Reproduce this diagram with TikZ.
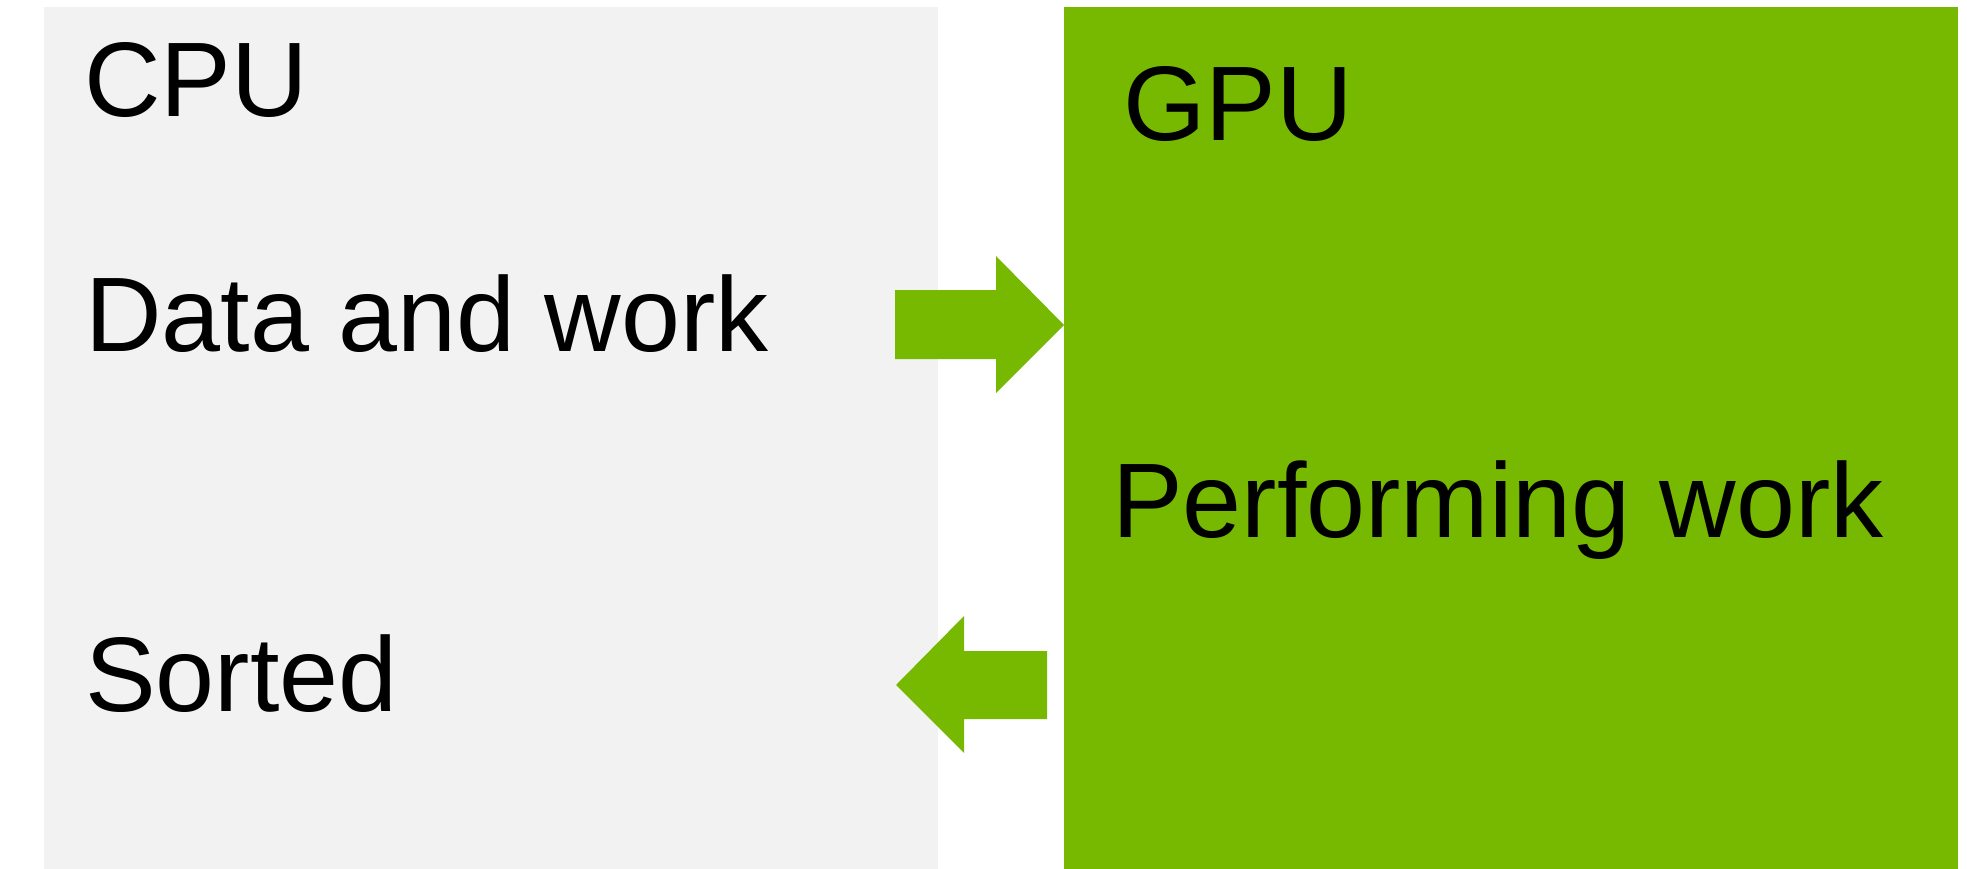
\documentclass[tikz,border=0pt]{standalone}
\usepackage{fontspec}
\setmainfont{Liberation Sans}
\definecolor{cpugrey}{HTML}{F2F2F2}
\definecolor{nvgreen}{HTML}{76B900}
\begin{document}
\begin{tikzpicture}[x=1pt,y=-1pt,
  lbl/.style={anchor=base west,inner sep=0pt,font=\fontsize{106}{120}\selectfont,text=black},
  blockarrow/.style={fill=nvgreen,draw=none}]
\useasboundingbox (0,0) rectangle (1967,869);
\fill[white] (0,0) rectangle (1967,869);
\fill[cpugrey] (44,7) rectangle (938,869);
\fill[nvgreen] (1064,7) rectangle (1958,869);
\node[lbl] (cpu) at (84,117) {CPU};
\node[lbl] (data) at (85,351) {Data and work};
\node[lbl] (sorted) at (85,711) {Sorted};
\node[lbl] (gpu) at (1123,141) {GPU};
\node[lbl] (perf) at (1112,537) {Performing work};
\fill[blockarrow] (895,290) -- (996,290) -- (996,256) -- (1064,325) -- (996,393) -- (996,359) -- (895,359) -- cycle;
\fill[blockarrow] (1047,651) -- (964,651) -- (964,616) -- (896,685) -- (964,753) -- (964,719) -- (1047,719) -- cycle;
\end{tikzpicture}
\end{document}
